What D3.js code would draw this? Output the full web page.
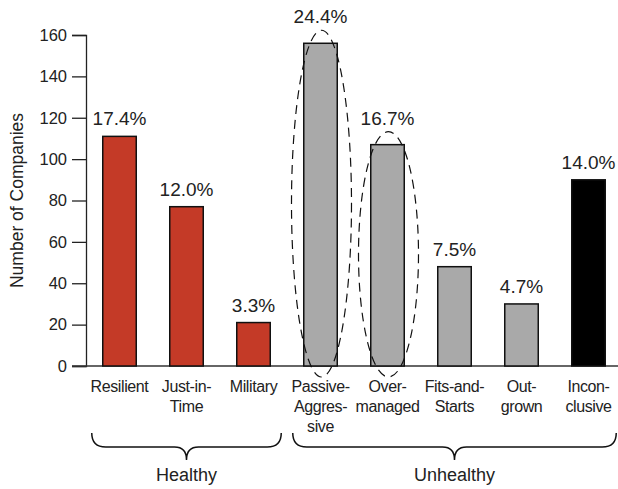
<!DOCTYPE html>
<html><head><meta charset="utf-8">
<script src="https://cdn.jsdelivr.net/npm/d3@7"></script>
<style>body{margin:0;background:#fff}svg{display:block;font-family:"Liberation Sans",Arial,sans-serif}</style>
</head><body><div id="chart"></div>
<script>
const categories = ["Resilient","Just-in-Time","Military","Passive-Aggressive","Over-managed","Fits-and-Starts","Outgrown","Inconclusive"];
const labelLines = [["Resilient"],["Just-in-","Time"],["Military"],["Passive-","Aggres-","sive"],["Over-","managed"],["Fits-and-","Starts"],["Out-","grown"],["Incon-","clusive"]];
const values = [111, 77, 21, 156, 107, 48, 30, 90];
const percents = ["17.4%","12.0%","3.3%","24.4%","16.7%","7.5%","4.7%","14.0%"];
const kinds = ["healthy","healthy","healthy","unhealthy","unhealthy","unhealthy","unhealthy","inconclusive"];
const circled = ["Passive-Aggressive","Over-managed"];
const groups = [{name:"Healthy", from:"Resilient", to:"Military"},{name:"Unhealthy", from:"Passive-Aggressive", to:"Inconclusive"}];
const yTicks = [0,20,40,60,80,100,120,140,160];

const W=618,H=489;
const colors = {healthy:"#c43a27", unhealthy:"#a9a9a9", inconclusive:"#000"};
const svg = d3.select("#chart").append("svg").attr("width",W).attr("height",H);
const x = d3.scaleBand().domain(categories).range([86,622]).paddingInner(0.5).paddingOuter(0.25);
const y = d3.scaleLinear().domain([0,160]).range([366,35]);
const bw = x.bandwidth();

// y axis
const ya = svg.append("g").attr("transform","translate(86,0)")
  .call(d3.axisLeft(y).tickValues(yTicks).tickSize(14).tickPadding(5));
ya.attr("font-size",16.5).attr("font-family","Liberation Sans, Arial, sans-serif");
ya.select(".domain").attr("stroke","#222").attr("stroke-width",1.3);
ya.selectAll(".tick line").attr("stroke","#222").attr("stroke-width",1.3);
ya.selectAll(".tick text").attr("fill","#222");

// baseline
svg.append("line").attr("x1",72).attr("x2",618).attr("y1",y(0)).attr("y2",y(0)).attr("stroke","#333").attr("stroke-width",1.5);

svg.append("text").attr("transform",`translate(23,${(y(0)+y(160))/2}) rotate(-90)`)
  .attr("text-anchor","middle").attr("font-size",17.5).attr("fill","#222").text("Number of Companies");

// bars
svg.selectAll("rect.bar").data(categories).join("rect").attr("class","bar")
  .attr("x",d=>x(d)).attr("width",bw)
  .attr("y",(d,i)=>y(values[i])).attr("height",(d,i)=>y(0)-y(values[i]))
  .attr("fill",(d,i)=>colors[kinds[i]]).attr("stroke","#111").attr("stroke-width",1.5);

// ellipses
const ell = categories.map((d,i)=>({d,i})).filter(o=>circled.includes(o.d));
svg.selectAll("ellipse").data(ell).join("ellipse")
  .attr("cx",o=>x(o.d)+bw/2+1).attr("rx",30)
  .attr("cy",o=>((y(values[o.i])-13)+(y(0)+11))/2)
  .attr("ry",o=>((y(0)+11)-(y(values[o.i])-13))/2)
  .attr("fill","none").attr("stroke","#111").attr("stroke-width",1.2).attr("stroke-dasharray","9,6");

// percent labels
svg.selectAll("text.pct").data(categories).join("text").attr("class","pct")
  .attr("x",d=>x(d)+bw/2)
  .attr("y",(d,i)=>y(values[i]) - (circled.includes(d)?20:11))
  .attr("text-anchor","middle").attr("font-size",19).attr("fill","#222")
  .text((d,i)=>percents[i]);

// category labels
const cl = svg.selectAll("text.cat").data(categories).join("text").attr("class","cat")
  .attr("text-anchor","middle").attr("font-size",16).attr("letter-spacing",-0.4).attr("fill","#222");
cl.each(function(d,i){
  const t=d3.select(this);
  labelLines[i].forEach((ln,j)=>t.append("tspan").attr("x",x(d)+bw/2).attr("y",392+j*20).text(ln));
});

// braces
const yt=433, ym=447, yb=460;
groups.forEach(g=>{
  const x0 = x(g.from)-11, x1 = x(g.to)+bw+11, xc=(x0+x1)/2;
  const p = `M${x0},${yt} Q${x0},${ym} ${x0+14},${ym} L${xc-12},${ym} Q${xc},${ym} ${xc},${yb} Q${xc},${ym} ${xc+12},${ym} L${x1-14},${ym} Q${x1},${ym} ${x1},${yt}`;
  svg.append("path").attr("d",p).attr("fill","none").attr("stroke","#111").attr("stroke-width",1.5);
  svg.append("text").attr("x",xc).attr("y",481).attr("text-anchor","middle").attr("font-size",18).attr("fill","#222").text(g.name);
});
</script></body></html>
